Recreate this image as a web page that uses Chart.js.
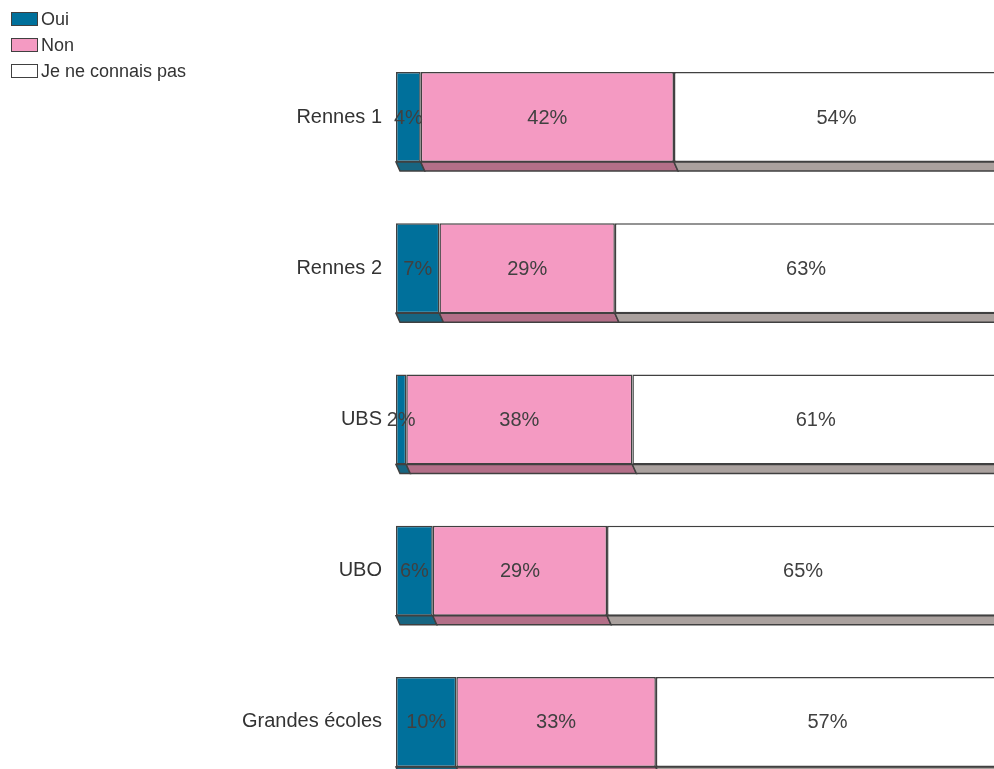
<!DOCTYPE html>
<html lang="fr">
<head>
<meta charset="utf-8">
<title>Connaissance par établissement</title>
<script src="https://cdn.jsdelivr.net/npm/chart.js@4"></script>
<style>
  html, body { margin: 0; padding: 0; background: #fff; overflow: hidden; }
  #wrap { position: relative; width: 994px; height: 769px; overflow: hidden; }
  #chart { position: absolute; left: 0; top: 0; }
  #legend { position: absolute; left: 11px; top: 6px; font: 18px "Liberation Sans", Arial, sans-serif; color: #333; }
  .item { display: flex; align-items: center; height: 26px; }
  .box { width: 25px; height: 12px; border: 1px solid #404040; margin-right: 3px; }
</style>
</head>
<body>
<div id="wrap">
  <canvas id="chart" width="1000" height="800"></canvas>
  <div id="legend"></div>
</div>
<script>
// categories and shares (%)
const categories = ["Rennes 1", "Rennes 2", "UBS", "UBO", "Grandes écoles"];
const seriesNames = ["Oui", "Non", "Je ne connais pas"];
const oui = [4.1, 7.2, 1.7, 6.1, 10.0];
const non = [42.0, 29.1, 37.5, 28.9, 33.1];
const nsp = [53.9, 63.4, 60.8, 65.0, 56.9];

const fills = ["#00709b", "#f49ac2", "#ffffff"];
const shadows = ["#176581", "#b36f88", "#aaa19e"];
const edge = "#404040";
const font = '"Liberation Sans", Arial, sans-serif';

// legend as html
const legend = document.getElementById("legend");
seriesNames.forEach(function (name, i) {
  const row = document.createElement("div");
  row.className = "item";
  const box = document.createElement("span");
  box.className = "box";
  box.style.background = fills[i];
  row.appendChild(box);
  row.appendChild(document.createTextNode(name));
  legend.appendChild(row);
});

// flat 3d foot under every segment
const footPlugin = {
  id: "foot",
  beforeDatasetsDraw(chart) {
    const ctx = chart.ctx;
    chart.data.datasets.forEach(function (ds, di) {
      chart.getDatasetMeta(di).data.forEach(function (bar) {
        const p = bar.getProps(["x", "y", "base", "height"], true);
        const bottom = p.y + p.height / 2;
        ctx.save();
        ctx.beginPath();
        ctx.moveTo(p.base, bottom);
        ctx.lineTo(p.x, bottom);
        ctx.lineTo(p.x + 4, bottom + 9);
        ctx.lineTo(p.base + 4, bottom + 9);
        ctx.closePath();
        ctx.fillStyle = shadows[di];
        ctx.fill();
        ctx.lineWidth = 1.5;
        ctx.strokeStyle = edge;
        ctx.stroke();
        ctx.restore();
      });
    });
  }
};

// percentage in the middle of each segment
const valuePlugin = {
  id: "values",
  afterDatasetsDraw(chart) {
    const ctx = chart.ctx;
    ctx.save();
    ctx.font = "20px " + font;
    ctx.fillStyle = "#404040";
    ctx.textAlign = "center";
    ctx.textBaseline = "middle";
    chart.data.datasets.forEach(function (ds, di) {
      chart.getDatasetMeta(di).data.forEach(function (bar, i) {
        const p = bar.getProps(["x", "y", "base"], true);
        ctx.fillText(Math.round(ds.data[i]) + "%", (p.x + p.base) / 2, p.y + 1);
      });
    });
    ctx.restore();
  }
};

const values = [oui, non, nsp];

new Chart(document.getElementById("chart"), {
  type: "bar",
  data: {
    labels: categories,
    datasets: seriesNames.map(function (name, i) {
      return {
        label: name,
        data: values[i],
        backgroundColor: fills[i],
        borderColor: edge,
        borderWidth: 1.5,
        borderSkipped: false,
        categoryPercentage: 1,
        barPercentage: 0.595
      };
    })
  },
  options: {
    indexAxis: "y",
    responsive: false,
    animation: false,
    devicePixelRatio: 1,
    layout: { padding: { top: 41.4, bottom: 2.4, left: 0, right: 1 } },
    plugins: {
      legend: { display: false },
      tooltip: { enabled: false }
    },
    scales: {
      x: {
        stacked: true,
        min: 0,
        max: 100,
        display: false
      },
      y: {
        stacked: true,
        grid: { display: false, drawTicks: false },
        border: { display: false },
        ticks: {
          padding: 14,
          color: "#333",
          font: { family: font, size: 20 }
        },
        afterFit: function (scale) {
          scale.width = 396;
          // keep the label half-heights from eating into the plot height
          scale.paddingTop = 0;
          scale.paddingBottom = 0;
        }
      }
    }
  },
  plugins: [footPlugin, valuePlugin]
});
</script>
</body>
</html>
